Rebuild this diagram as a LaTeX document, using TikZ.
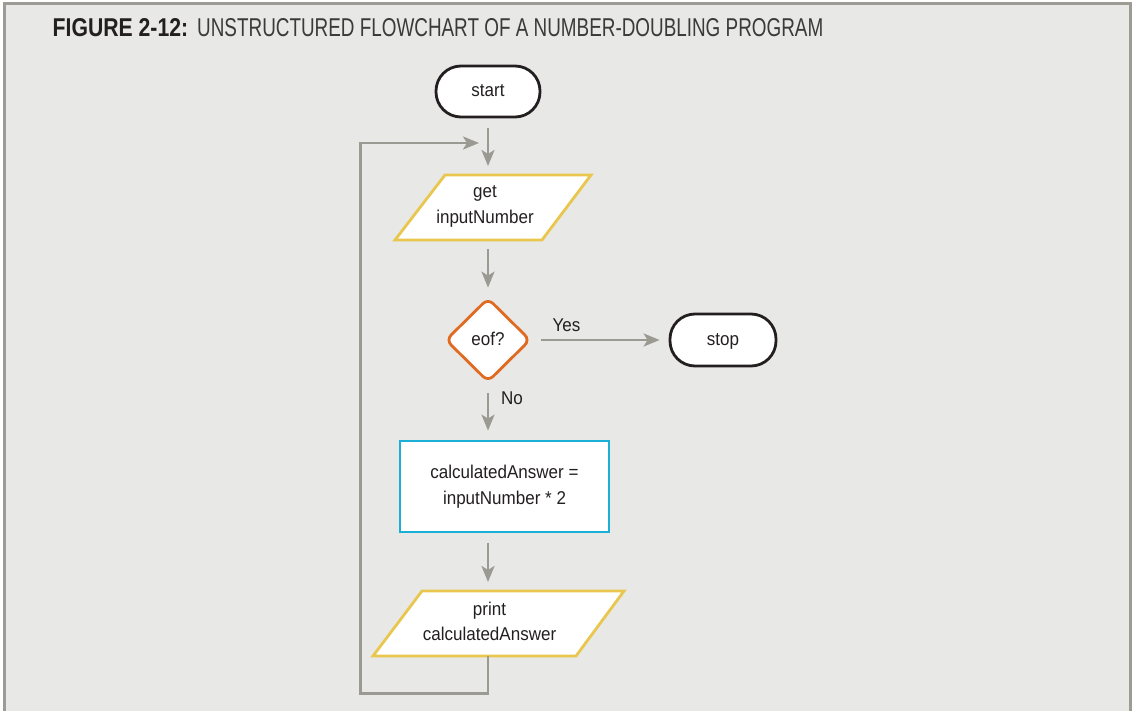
\documentclass[tikz,border=0pt]{standalone}
\usepackage{fontspec}
\setmainfont{Liberation Sans}
\newfontfamily\nodefont[FakeStretch=0.92]{Liberation Sans}
\usetikzlibrary{arrows.meta,shapes.geometric,calc}
\definecolor{bgc}{HTML}{E8E8E6}
\definecolor{framec}{HTML}{9C9C94}
\definecolor{linec}{HTML}{9A9A92}
\definecolor{yel}{HTML}{E9C74E}
\definecolor{ora}{HTML}{E06A22}
\definecolor{blu}{HTML}{1AAFD4}
\definecolor{ink}{HTML}{231F20}
\definecolor{lightink}{HTML}{3A3A3A}
\begin{document}
\begin{tikzpicture}[x=1pt,y=-1pt,
  txt/.style={inner sep=0pt,align=center,text=ink,font=\nodefont\fontsize{18.5}{25.5}\selectfont},
  term/.style={txt,draw=ink,line width=2.8pt,fill=white,rounded corners=25pt,minimum width=104pt,minimum height=51pt},
  dec/.style={txt,shape=diamond,draw=ora,line width=2.8pt,fill=white,rounded corners=7pt,minimum width=85pt,minimum height=84pt},
  procbox/.style={txt,draw=blu,line width=2.8pt,fill=white,minimum width=209pt,minimum height=91pt},
  pgram/.style={draw=yel,line width=2.8pt,fill=white,line join=miter},
  lbl/.style={inner sep=0pt,text=ink,font=\nodefont\fontsize{18.5}{25.5}\selectfont},
  arr/.style={draw=linec,line width=2.6pt,-{Stealth[length=16pt,width=13pt,inset=4pt]}},
  gap/.style={shorten <=9.5pt,shorten >=9pt}
]
\useasboundingbox (0,0) rectangle (1134,711);
\fill[white] (0,0) rectangle (1134,711);
\fill[bgc] (4.5,3.5) rectangle (1130.5,711);
\draw[framec,line width=2.6pt] (4.5,711) -- (4.5,3.5) -- (1130.5,3.5) -- (1130.5,711);

% title
\node[anchor=base west,inner sep=0pt,text=ink] (t1) at (52.5,37) {\resizebox{135.5pt}{18pt}{\bfseries FIGURE 2-12:}};
\node[anchor=base west,inner sep=0pt,text=lightink] (t2) at (197,37) {\resizebox{626pt}{18pt}{UNSTRUCTURED FLOWCHART OF A NUMBER-DOUBLING PROGRAM}};

% shapes
\node[term] (start) at (488,91.5) {\strut start};

\path[pgram] (395,240) -- (445,175) -- (591,175) -- (542,240) -- cycle;
\coordinate (gett) at (488,175);
\coordinate (getb) at (488,240);
\node[txt] (get) at (485,205.5) {\strut get\\\strut inputNumber};

\node[dec] (eof) at (488,340) {\strut eof?};

\node[term,minimum width=106pt,minimum height=52pt] (stop) at (723,340) {\strut stop};

\node[procbox] (calc) at (504.5,486.5) {\strut calculatedAnswer =\\\strut inputNumber * 2};

\path[pgram] (373,656) -- (422,591) -- (624,591) -- (576,656) -- cycle;
\coordinate (prt) at (488,591);
\coordinate (prb) at (488,656);
\node[txt] (print) at (489.5,623) {\strut print\\\strut calculatedAnswer};

% connectors
\draw[arr,gap] (start.south) -- (gett);
\draw[arr,gap] (getb) -- (eof.north);
\draw[arr,gap] (eof.east) -- (stop.west);
\draw[arr,gap] (eof.south) -- (eof.south |- calc.north);
\draw[arr,gap] (eof.south |- calc.south) -- (prt);
\coordinate (looptip) at (479,143);
\draw[arr,line join=miter] (prb) -- ++(0,37.5) -- ++(-127.5,0) |- (looptip);

\node[lbl,anchor=base] (yes) at (566.5,331) {Yes};
\node[lbl,anchor=base] (no) at (512,404) {No};
\end{tikzpicture}
\end{document}
